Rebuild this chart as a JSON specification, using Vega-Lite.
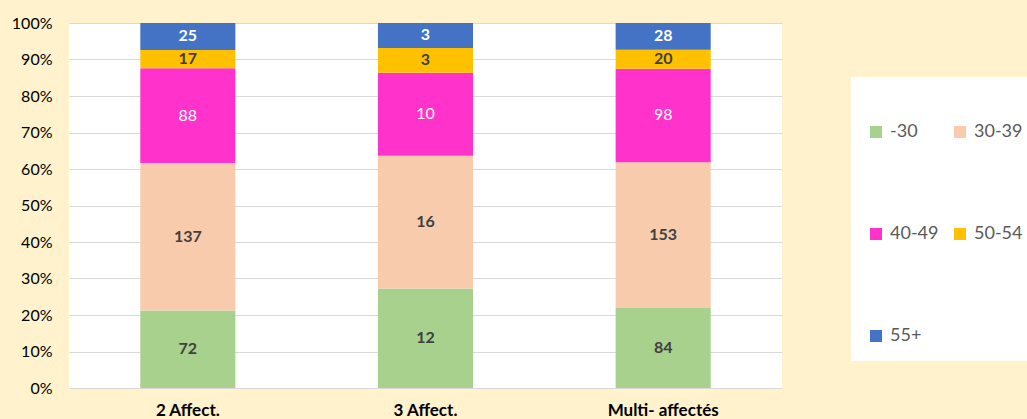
{
  "$schema": "https://vega.github.io/schema/vega-lite/v6.json",
  "autosize": {"type": "none"},
  "width": 713,
  "height": 365,
  "padding": {"left": 69, "top": 23, "right": 245, "bottom": 31},
  "background": "#FFF2CC",
  "config": {
    "view": {"fill": "white", "stroke": null},
    "font": "Lato",
    "axisY": {"title": null, "format": ".0%", "values": [0, 0.1, 0.2, 0.3, 0.4, 0.5, 0.6, 0.7, 0.8, 0.9, 1], "gridColor": "#D9D9D9", "domain": false, "ticks": false, "labelFontSize": 16, "labelColor": "#000000", "labelPadding": 17, "labelOverlap": false}
  },
  "data": {"values": [
    {"group": "2 Affect.", "age": "-30", "value": 72},
    {"group": "2 Affect.", "age": "30-39", "value": 137},
    {"group": "2 Affect.", "age": "40-49", "value": 88},
    {"group": "2 Affect.", "age": "50-54", "value": 17},
    {"group": "2 Affect.", "age": "55+", "value": 25},
    {"group": "3 Affect.", "age": "-30", "value": 12},
    {"group": "3 Affect.", "age": "30-39", "value": 16},
    {"group": "3 Affect.", "age": "40-49", "value": 10},
    {"group": "3 Affect.", "age": "50-54", "value": 3},
    {"group": "3 Affect.", "age": "55+", "value": 3},
    {"group": "Multi- affectés", "age": "-30", "value": 84},
    {"group": "Multi- affectés", "age": "30-39", "value": 153},
    {"group": "Multi- affectés", "age": "40-49", "value": 98},
    {"group": "Multi- affectés", "age": "50-54", "value": 20},
    {"group": "Multi- affectés", "age": "55+", "value": 28}
  ]},
  "transform": [
    {"stack": "value", "groupby": ["group"], "sort": [{"field": "age", "order": "ascending"}], "offset": "normalize", "as": ["y0", "y1"]}
  ],
  "encoding": {
    "x": {
      "field": "group", "type": "nominal", "sort": null,
      "scale": {"paddingInner": 0.6, "paddingOuter": 0.3},
      "axis": {"title": null, "labelAngle": 0, "labelFontWeight": "bold", "labelFontSize": 17, "labelColor": "#000000", "labelPadding": 14, "ticks": false, "domain": false}
    }
  },
  "layer": [
    {
      "mark": {"type": "bar"},
      "encoding": {
        "y": {"field": "y0", "type": "quantitative", "scale": {"domain": [0, 1], "nice": false}},
        "y2": {"field": "y1"},
        "color": {
          "field": "age", "type": "nominal",
          "scale": {"domain": ["-30", "30-39", "40-49", "50-54", "55+"], "range": ["#A9D18E", "#F8CBAD", "#FF33CC", "#FFC000", "#4472C4"]},
          "legend": {
            "orient": "none", "legendX": 782, "legendY": 54, "columns": 2, "direction": "horizontal",
            "title": " ", "titleFontSize": 10, "titlePadding": 20,
            "fillColor": "white", "padding": 16,
            "symbolType": "square", "symbolSize": 144, "symbolStrokeWidth": 0,
            "labelFontSize": 18, "labelColor": "#595959", "labelOffset": 5,
            "rowPadding": 84, "columnPadding": 12
          }
        }
      }
    },
    {
      "transform": [
        {"filter": "datum.age !== '40-49'"},
        {"fold": ["y0", "y1"], "as": ["k", "v"]}
      ],
      "mark": {"type": "text", "fontWeight": "bold", "fontSize": 16, "baseline": "middle"},
      "encoding": {
        "y": {"field": "v", "type": "quantitative", "aggregate": "mean"},
        "text": {"field": "value", "type": "quantitative"},
        "fill": {
          "field": "age", "type": "nominal", "legend": null,
          "scale": {"domain": ["-30", "30-39", "50-54", "55+"], "range": ["#404040", "#404040", "#404040", "#FFFFFF"]}
        }
      }
    },
    {
      "transform": [
        {"filter": "datum.age === '40-49'"},
        {"fold": ["y0", "y1"], "as": ["k", "v"]}
      ],
      "mark": {"type": "text", "fontSize": 16, "baseline": "middle", "color": "#FFFFFF"},
      "encoding": {
        "y": {"field": "v", "type": "quantitative", "aggregate": "mean"},
        "text": {"field": "value", "type": "quantitative"}
      }
    }
  ]
}
